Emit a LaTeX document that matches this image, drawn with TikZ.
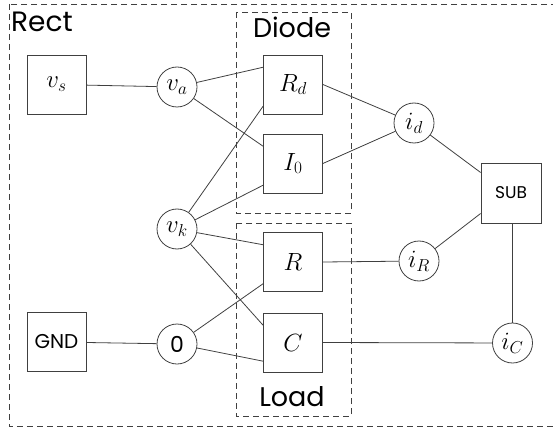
\documentclass[tikz,border=0pt]{standalone}
\usepackage{fontspec}
\setsansfont{Poppins}
\tikzset{
  blk/.style={draw=black!75,line width=0.8pt,minimum size=59pt,inner sep=0pt},
  sig/.style={draw=black!75,line width=0.8pt,circle,minimum size=40pt,inner sep=0pt},
  wire/.style={black!75,line width=0.8pt},
  frame/.style={draw=black!75,line width=0.8pt,dash pattern=on 6pt off 4pt},
  lbl/.style={font=\sffamily\fontsize{27}{27}\selectfont,inner sep=0pt}
}

\begin{document}
\begin{tikzpicture}[x=10pt,y=-10pt,font=\fontsize{25}{25}\selectfont]
\useasboundingbox (0,0) rectangle (55.3,43.0);
% ---------- frames ----------
\draw[frame] (0.9,0.4) rectangle (55.6,42.6);
\node[lbl,anchor=base west,font=\sffamily\fontsize{28}{28}\selectfont] (rect) at (1.1,3.2) {Rect};
\draw[frame] (23.6,1.2) rectangle (35.1,21.3);
\node[lbl,anchor=base] (diode) at (29.2,3.8) {Diode};
\draw[frame] (23.6,22.3) rectangle (35.1,41.6);
\node[lbl,anchor=base] (load) at (29.2,40.6) {Load};
% ---------- sources and node voltages ----------
\node[blk] (vs) at (5.65,8.45) {$v_s$};
\node[blk,font=\sffamily\fontsize{20}{20}\selectfont] (gnd) at (5.65,34.2) {GND};
\node[sig] (va) at (17.7,8.7) {$v_a$};
\node[sig] (vk) at (17.7,22.9) {$v_k$};
\node[sig,font=\sffamily\fontsize{22}{22}\selectfont] (zero) at (17.7,34.4) {0};
% ---------- components ----------
\node[blk] (Rd) at (29.3,8.45) {$R_d$};
\node[blk] (Io) at (29.3,16.35) {$I_0$};
\node[blk] (R) at (29.3,26.2) {$R$};
\node[blk] (C) at (29.3,34.25) {$C$};
% ---------- currents ----------
\node[sig] (id) at (41.4,12.3) {$i_d$};
\node[sig] (iR) at (41.9,26.1) {$i_R$};
\node[sig] (iC) at (51.25,34.3) {$i_C$};
\node[blk,minimum size=60pt,font=\sffamily\fontsize{17}{17}\selectfont] (sub) at (51.1,19.3) {SUB};
% ---------- wires ----------
\draw[wire] (vs) -- (va);
\draw[wire] (gnd) -- (zero);
\draw[wire] (va) -- (Rd.150);
\draw[wire] (va) -- (Io.150);
\draw[wire] (vk) -- (Rd.216);
\draw[wire] (vk) -- (Io.216);
\draw[wire] (vk) -- (R.150);
\draw[wire] (vk) -- (C.150);
\draw[wire] (zero) -- (R.216);
\draw[wire] (zero) -- (C.212);
\draw[wire] (Rd.east) -- (id);
\draw[wire] (Io.east) -- (id);
\draw[wire] (id) -- (sub.146);
\draw[wire] (R.east) -- (iR);
\draw[wire] (iR) -- (sub.214);
\draw[wire] (C.east) -- (iC);
\draw[wire] (sub.south -| iC) -- (iC);
\end{tikzpicture}
\end{document}
